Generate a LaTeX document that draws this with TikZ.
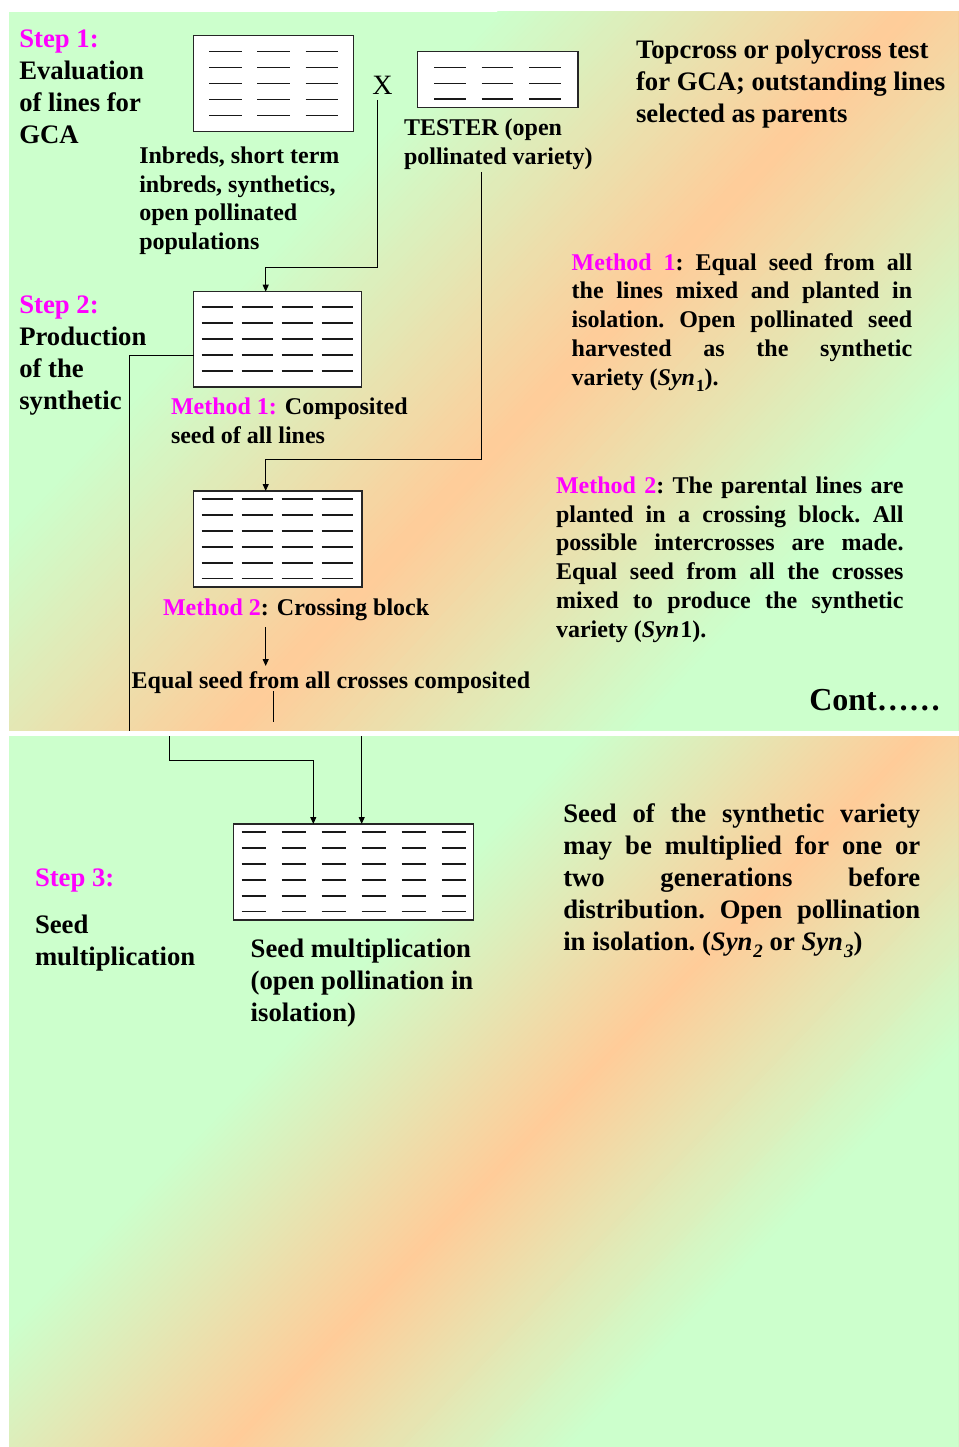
\documentclass[tikz,border=0pt]{standalone}
\usepackage{fontspec}
\setmainfont{Liberation Serif}
\usetikzlibrary{arrows.meta,calc}
\definecolor{bggreen}{HTML}{CCFFCC}
\definecolor{bgorange}{HTML}{FFCC99}
\definecolor{stepmag}{HTML}{FF00FF}
\newcommand\txtA{\fontsize{26.7pt}{32pt}\selectfont\bfseries}
\newcommand\txtB{\fontsize{24pt}{28.8pt}\selectfont\bfseries}
\newcommand\mg[1]{\textcolor{stepmag}{#1}}
\newcommand\subB[1]{\kern1pt\raisebox{-0.27em}{\fontsize{17pt}{17pt}\selectfont #1}}
\newcommand\subA[1]{\kern1pt\raisebox{-0.27em}{\fontsize{19pt}{19pt}\selectfont\itshape #1}}
\tikzset{
  lbl/.style={anchor=base west, inner sep=0pt, outer sep=0pt},
  plotbox/.style={draw=black!85, line width=1.3pt, fill=white, inner sep=0pt, outer sep=0pt},
  pl/.style={draw=black!90, line width=1.4pt},
  conn/.style={draw=black, line width=1pt},
  arr/.style={conn, -{Triangle[length=7pt,width=6pt]}},
}
\begin{document}
\begin{tikzpicture}[x=1pt,y=-1pt]
\useasboundingbox (0,0) rectangle (958,1447);
\fill[white] (0,0) rectangle (958,1447);
% ---------- top panel background ----------
\begin{scope}
  \clip (9,11.7) rectangle (958,730.7);
  \fill[bggreen] (9,11.7) rectangle (958,730.7);
  \foreach \k in {0,...,125} {
    \pgfmathsetmacro\ff{0.30+\k*0.004}
    \pgfmathsetmacro\pc{\ff<0.55 ? (\ff-0.30)/0.25*100 : max(0,(0.80-\ff)/0.25*100)}
    \fill[bgorange!\pc!bggreen] ($(9,11.7)!\ff!(958,730.7)$) ++(-1029,1090.5)
      -- ++(2058,-2181) -- ++(1090.5,1029) -- ++(-2058,2181) -- cycle;
  }
\end{scope}
% ---------- bottom panel background ----------
\begin{scope}
  \clip (9,736) rectangle (958,1446);
  \fill[bggreen] (9,736) rectangle (958,1446);
  \foreach \k in {0,...,103} {
    \pgfmathsetmacro\ff{0.35+\k*0.004}
    \pgfmathsetmacro\pc{\ff<0.555 ? (\ff-0.35)/0.205*100 : max(0,(0.76-\ff)/0.205*100)}
    \fill[bgorange!\pc!bggreen] ($(9,736)!\ff!(958,1446)$) ++(-1045.5,1075.5)
      -- ++(2091,-2151) -- ++(1075.5,1045.5) -- ++(-2091,2151) -- cycle;
  }
\end{scope}

% ---------- plot boxes ----------
\node[plotbox, minimum width=159.6pt, minimum height=96pt] (box1) at (273.5,83.7) {};
\foreach \i in {0,1,2} \foreach \j in {0,...,4}
  \draw[pl] (209+48.3*\i, 51.7+16*\j) -- ++(32.5,0);

\node[plotbox, minimum width=160.3pt, minimum height=56pt] (box2) at (497.75,79.7) {};
\foreach \i in {0,1,2} \foreach \j in {0,1,2}
  \draw[pl] (434+47.5*\i, 67.7+15.7*\j) -- ++(31.5,0);

\node[plotbox, minimum width=168pt, minimum height=95.3pt] (box3) at (277.7,339.35) {};
\foreach \i in {0,...,3} \foreach \j in {0,...,4}
  \draw[pl] (201.7+40*\i, 307+16*\j) -- ++(31.6,0);

\node[plotbox, minimum width=168.3pt, minimum height=96pt] (box4) at (277.85,539) {};
\foreach \i in {0,...,3} \foreach \j in {0,...,5}
  \draw[pl] (201.7+40*\i, 499+15.95*\j) -- ++(31.6,0);

\node[plotbox, minimum width=240pt, minimum height=96pt] (box5) at (353.7,872) {};
\foreach \i in {0,...,5} \foreach \j in {0,...,5}
  \draw[pl] (241.7+40*\i, 832+15.95*\j) -- ++(24,0);

% ---------- texts ----------
\node[lbl] (step1) at (19.3,47.5) {\parbox[t]{200pt}{\raggedright\txtA
  \mg{Step 1:}\\Evaluation\\of lines for\\GCA}};
\node[lbl] (inbreds) at (139.3,163.3) {\parbox[t]{260pt}{\raggedright\txtB
  Inbreds, short term\\inbreds, synthetics,\\open pollinated\\populations}};
\node[lbl, font=\fontsize{28pt}{32pt}\selectfont] (X) at (372.3,95) {X};
\node[lbl] (tester) at (404,136) {\parbox[t]{260pt}{\raggedright\txtB
  TESTER (open\\pollinated variety)}};
\node[lbl] (topcross) at (636,58.5) {\parbox[t]{320pt}{\raggedright\txtA
  Topcross or polycross test\\for GCA; outstanding lines\\selected as parents}};
\node[lbl] (step2) at (19.3,313.5) {\parbox[t]{200pt}{\raggedright\txtA
  \mg{Step 2:}\\Production\\of the\\synthetic}};
\node[lbl] (m1lbl) at (171,414.7) {\parbox[t]{300pt}{\raggedright\txtB
  \mg{Method 1:} Composited\\seed of all lines}};
\node[lbl] (m2lbl) at (163,615.3) {\txtB\mg{Method 2}: Crossing block};
\node[lbl] (eqlbl) at (131.7,688.3) {\txtB Equal seed from all crosses composited};

\node[lbl] (m1txt) at (571.7,270) {\parbox[t]{340.5pt}{\txtB\frenchspacing\tolerance=10000 \hbadness=10000
  \mg{Method 1}: Equal seed from all\linebreak the lines mixed and planted in\linebreak
  isolation. Open pollinated seed\linebreak harvested as the synthetic\linebreak
  variety (\textit{Syn}\subB{1}).}};
\node[lbl] (m2txt) at (556,493.3) {\parbox[t]{347.5pt}{\txtB\frenchspacing\tolerance=10000 \hbadness=10000
  \mg{Method 2}: The parental lines are\linebreak planted in a crossing block. All\linebreak
  possible intercrosses are made.\linebreak Equal seed from all the crosses\linebreak
  mixed to produce the synthetic\linebreak variety (\textit{Syn}\kern1pt 1).}};
\node[anchor=base east, inner sep=0pt] (cont) at (941,710) {\fontsize{32pt}{38pt}\selectfont\bfseries Cont……};

\node[lbl] (step3) at (35,886) {\txtA\mg{Step 3:}};
\node[lbl] (seedmult) at (35,933.3) {\parbox[t]{200pt}{\raggedright\txtA
  Seed\\multiplication}};
\node[lbl] (box5lbl) at (250.7,957.7) {\parbox[t]{300pt}{\raggedright\txtA
  Seed multiplication\\(open pollination in\\isolation)}};
\node[lbl] (syntxt) at (563.3,822.7) {\parbox[t]{357pt}{\txtA\frenchspacing\tolerance=10000 \hbadness=10000
  Seed of the synthetic variety\linebreak may be multiplied for one or\linebreak
  two generations before\linebreak distribution. Open pollination\linebreak
  in isolation. (\textit{Syn}\subA{2} or \textit{Syn}\subA{3})}};

% ---------- connectors ----------
\coordinate (xdown) at (377.7,100);
\coordinate (k1) at (265.7,267.3);
\draw[arr] (xdown) |- (k1) -- (k1 |- box3.north);

\coordinate (tdown) at (481.7,172);
\coordinate (k2) at (265.7,459);
\draw[arr] (tdown) |- (k2) -- (k2 |- box4.north);

\coordinate (k3) at (129.7,730.7);
\draw[conn] (box3.west |- 0,355) -| (k3);

\coordinate (a1) at (265.7,627);
\coordinate (a2) at (265.7,666);
\draw[arr] (a1) -- (a2);

\coordinate (a3) at (273.7,691);
\coordinate (a4) at (273.7,722.3);
\draw[conn] (a3) -- (a4);

\coordinate (b1) at (169.7,736);
\coordinate (b2) at (313.3,760);
\draw[arr] (b1) |- (b2) -- (b2 |- box5.north);

\coordinate (b3) at (361.7,736);
\draw[arr] (b3) -- (b3 |- box5.north);
\end{tikzpicture}
\end{document}
